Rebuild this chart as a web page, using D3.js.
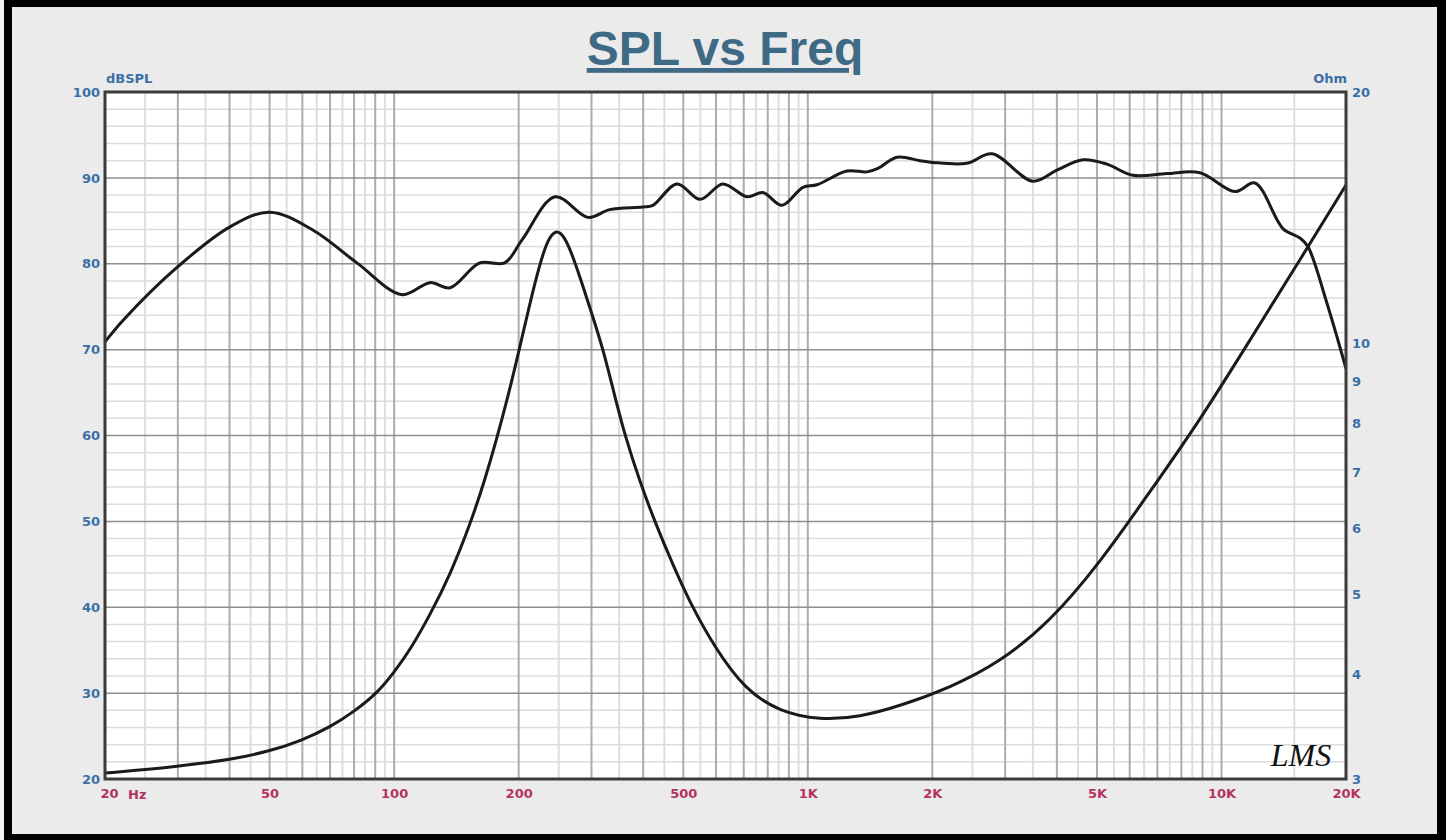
<!DOCTYPE html>
<html>
<head>
<meta charset="utf-8">
<script src="https://cdn.jsdelivr.net/npm/d3@7"></script>
<style>
  body { margin: 0; background: #f4f4f4; }
  .tick-blue text { fill: #3b6fa6; font-family: "DejaVu Sans", sans-serif; font-weight: bold; font-size: 13px; }
  .tick-red text { fill: #b5335f; font-family: "DejaVu Sans", sans-serif; font-weight: bold; font-size: 13px; }
  .domain { display: none; }
</style>
</head>
<body>
<script>
// Frequency response (SPL) data
var splFreq = [20, 22.1, 29.9, 40.1, 50, 63.7, 81.3, 104.5, 122, 136.5, 161, 185, 204, 245, 294,
    332, 399, 422, 483, 549, 623, 713, 779, 866, 973, 1052, 1243, 1390, 1478, 1642,
    1867, 2007, 2424, 2787, 3502, 4002, 4624, 5284, 6107, 7382, 8871, 10778, 12046, 14078, 15478,
    16180, 17988, 20000];
var splDb = [70.9, 73.4, 79.6, 84.3, 86.0, 83.9, 80.1, 76.4, 77.8, 77.2, 80.1, 80.1, 82.8, 87.8, 85.4,
    86.3, 86.6, 86.8, 89.3, 87.5, 89.3, 87.8, 88.3, 86.8, 88.9, 89.2, 90.8, 90.7, 91.1, 92.4,
    92.0, 91.8, 91.7, 92.8, 89.6, 90.9, 92.1, 91.6, 90.3, 90.5, 90.6, 88.4, 89.4, 84.1, 83.0,
    82.0, 75.4, 67.8];

// Impedance data
var zFreq = [20, 25.7, 33.9, 40.8, 50, 59.2, 70, 80.4, 91.4, 100, 109.2, 122.1, 136.5, 152.5, 165.7,
    177.2, 188.4, 199.2, 213, 225, 235.4, 246, 257.4, 269, 284.4, 300.8, 319.8, 340, 361.4, 393,
    427, 469.6, 519, 596, 705, 856, 1070, 1337, 1670, 2206, 2914, 3848, 5084, 6714, 8871,
    11718, 15478, 20000];
var zOhm = [3.05, 3.08, 3.13, 3.17, 3.24, 3.33, 3.46, 3.62, 3.81, 4.03, 4.28, 4.72, 5.27, 6.05, 6.85,
    7.69, 8.62, 9.67, 11.17, 12.45, 13.32, 13.68, 13.45, 12.80, 11.80, 10.83, 9.84, 8.71, 7.74, 6.81,
    6.10, 5.45, 4.88, 4.31, 3.84, 3.61, 3.53, 3.56, 3.67, 3.86, 4.14, 4.63, 5.45, 6.63, 8.08,
    10.08, 12.58, 15.47];

// Tick values / labels
var dbTicks = [20, 30, 40, 50, 60, 70, 80, 90, 100];
var ohmTicks = [3, 4, 5, 6, 7, 8, 9, 10, 20];
var freqTicks = [20, 50, 100, 200, 500, 1000, 2000, 5000, 10000, 20000];
var freqLabels = ["20", "50", "100", "200", "500", "1K", "2K", "5K", "10K", "20K"];

var W = 1446, H = 840;
var plot = {left: 105, right: 1346, top: 92, bottom: 779};

var x = d3.scaleLog().domain([20, 20000]).range([plot.left, plot.right]);
var ySpl = d3.scaleLinear().domain([20, 100]).range([plot.bottom, plot.top]);
var yOhm = d3.scaleLog().domain([3, 20]).range([plot.bottom, plot.top]);

var svg = d3.select("body").append("svg")
    .attr("width", W)
    .attr("height", H)
    .style("display", "block");

// outer frame
svg.append("rect").attr("x", 4).attr("y", 0).attr("width", W - 4).attr("height", H).attr("fill", "#000");
svg.append("rect").attr("x", 12).attr("y", 7).attr("width", 1425).attr("height", 827).attr("fill", "#ebebeb");

// plot background
svg.append("rect")
    .attr("x", plot.left).attr("y", plot.top)
    .attr("width", plot.right - plot.left).attr("height", plot.bottom - plot.top)
    .attr("fill", "#fff");

// grid: vertical lines at 2..10 x decade, light ones at the half steps
var vMajor = [], vMinor = [];
[10, 100, 1000].forEach(function(dec) {
    for (var m = 2; m <= 10; m++) {
        if (dec * m >= 20 && dec * m <= 20000) vMajor.push(dec * m);
        if (dec * (m + 0.5) > 20 && dec * (m + 0.5) < 20000 && m < 10) vMinor.push(dec * (m + 0.5));
    }
});
vMinor.push(15000);

var grid = svg.append("g");
grid.selectAll(".vmin").data(vMinor).enter().append("line")
    .attr("x1", function(d) { return x(d); }).attr("x2", function(d) { return x(d); })
    .attr("y1", plot.top).attr("y2", plot.bottom)
    .attr("stroke", "#dedede").attr("stroke-width", 2);

// horizontal minor lines every 2 dB
var hMinor = d3.range(22, 100, 2).filter(function(d) { return d % 10 !== 0; });
grid.selectAll(".hmin").data(hMinor).enter().append("line")
    .attr("x1", plot.left).attr("x2", plot.right)
    .attr("y1", function(d) { return ySpl(d); }).attr("y2", function(d) { return ySpl(d); })
    .attr("stroke", "#dcdcdc").attr("stroke-width", 1.5);

grid.selectAll(".vmaj").data(vMajor).enter().append("line")
    .attr("x1", function(d) { return x(d); }).attr("x2", function(d) { return x(d); })
    .attr("y1", plot.top).attr("y2", plot.bottom)
    .attr("stroke", "#acacac").attr("stroke-width", 2);

grid.selectAll(".hmaj").data(dbTicks).enter().append("line")
    .attr("x1", plot.left).attr("x2", plot.right)
    .attr("y1", function(d) { return ySpl(d); }).attr("y2", function(d) { return ySpl(d); })
    .attr("stroke", "#8e8e8e").attr("stroke-width", 1.5);

// curves
var splLine = d3.line()
    .x(function(d) { return x(d[0]); })
    .y(function(d) { return ySpl(d[1]); })
    .curve(d3.curveCatmullRom.alpha(0.5));

// impedance readings are a bit noisy, so smooth with a b-spline
var zLine = d3.line()
    .x(function(d) { return x(d[0]); })
    .y(function(d) { return yOhm(d[1]); })
    .curve(d3.curveBasis);

svg.append("path")
    .attr("d", zLine(d3.zip(zFreq, zOhm)))
    .attr("fill", "none").attr("stroke", "#1a1a1a").attr("stroke-width", 3);

svg.append("path")
    .attr("d", splLine(d3.zip(splFreq, splDb)))
    .attr("fill", "none").attr("stroke", "#1a1a1a").attr("stroke-width", 3);

// plot border
svg.append("rect")
    .attr("x", plot.left).attr("y", plot.top)
    .attr("width", plot.right - plot.left).attr("height", plot.bottom - plot.top)
    .attr("fill", "none").attr("stroke", "#3a3a3a").attr("stroke-width", 3);

// axes
svg.append("g")
    .attr("class", "tick-blue")
    .attr("transform", "translate(" + plot.left + ",0)")
    .call(d3.axisLeft(ySpl).tickValues(dbTicks).tickSize(0).tickPadding(5));

svg.append("g")
    .attr("class", "tick-blue")
    .attr("transform", "translate(" + plot.right + ",0)")
    .call(d3.axisRight(yOhm).tickValues(ohmTicks).tickSize(0).tickPadding(6).tickFormat(d3.format("d")));

var xAxis = svg.append("g")
    .attr("class", "tick-red")
    .attr("transform", "translate(0," + plot.bottom + ")")
    .call(d3.axisBottom(x).tickValues(freqTicks).tickSize(0).tickPadding(10)
        .tickFormat(function(d, i) { return freqLabels[i]; }));

xAxis.selectAll(".tick text").attr("dx", function(d) { return d === 20 ? 4 : 0; });

svg.append("text")
    .attr("x", x(20) + 23).attr("y", plot.bottom + 20)
    .attr("fill", "#b5335f")
    .style("font-family", "DejaVu Sans, sans-serif").style("font-weight", "bold").style("font-size", "13px")
    .text("Hz");

// axis unit labels
svg.append("text")
    .attr("x", plot.left + 1).attr("y", plot.top - 9)
    .attr("fill", "#3b6fa6")
    .style("font-family", "DejaVu Sans, sans-serif").style("font-weight", "bold").style("font-size", "13px")
    .text("dBSPL");

svg.append("text")
    .attr("x", plot.right + 1).attr("y", plot.top - 9)
    .attr("text-anchor", "end")
    .attr("fill", "#3b6fa6")
    .style("font-family", "DejaVu Sans, sans-serif").style("font-weight", "bold").style("font-size", "13px")
    .text("Ohm");

// title
svg.append("text")
    .attr("x", 725).attr("y", 65)
    .attr("text-anchor", "middle")
    .attr("fill", "#3e6a86")
    .style("font-family", "Liberation Sans, Arial, sans-serif")
    .style("font-weight", "bold").style("font-size", "48px")
    .style("text-decoration", "underline")
    .text("SPL vs Freq");

// LMS signature
svg.append("text")
    .attr("x", 1301).attr("y", 766)
    .attr("text-anchor", "middle")
    .attr("fill", "#111")
    .style("font-family", "Liberation Serif, serif")
    .style("font-style", "italic").style("font-size", "32px")
    .text("LMS");
</script>
</body>
</html>
